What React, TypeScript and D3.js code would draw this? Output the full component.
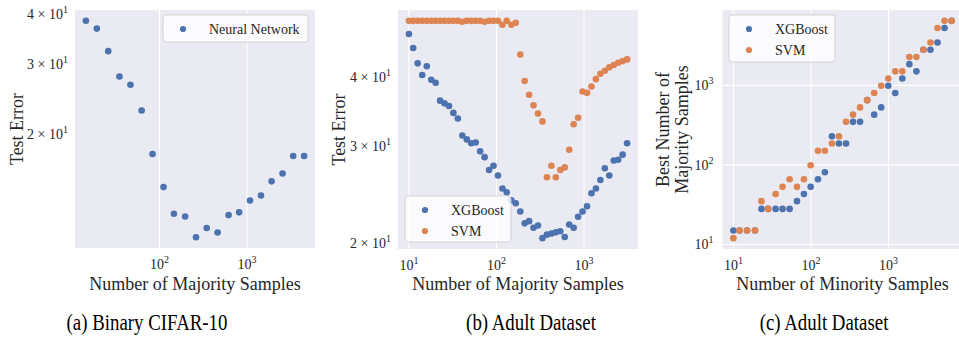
import React, { useEffect, useRef } from 'react'
import * as d3 from 'd3'

// (a) Binary CIFAR-10: neural network test error vs majority samples
const nnSamples = [14.4, 19.2, 25.9, 34.8, 46.5, 62.4, 83.2, 111, 146, 196, 261, 346, 461, 615, 811, 1082, 1443, 1909, 2547, 3365, 4487]
const nnError = [38.5, 36.8, 32.3, 27.9, 26.6, 22.9, 17.8, 14.7, 12.6, 12.4, 11.0, 11.6, 11.3, 12.5, 12.7, 13.6, 14.0, 15.2, 15.9, 17.6, 17.6]

// (b) Adult dataset: test error vs majority samples
const adultSamples = [10, 11.2, 12.6, 14.2, 16.0, 18.0, 20.2, 22.7, 25.5, 28.7, 32.2, 36.2, 40.7, 45.8, 51.5, 57.9, 65.1, 73.2, 82.3, 92.5,
  104, 117, 131, 148, 166, 187, 210, 236, 265, 298, 335, 377, 424, 476, 536, 602, 677, 761, 856, 962,
  1082, 1216, 1367, 1537, 1728, 1943, 2184, 2455, 2760, 3103]
const xgbError = [47.8, 45.1, 42.3, 40.3, 41.8, 39.5, 39.0, 36.2, 35.8, 35.4, 34.4, 33.6, 31.3, 30.8, 30.3, 30.4, 29.3, 28.6, 27.1, 27.6,
  26.5, 25.1, 24.7, 23.9, 23.6, 22.8, 21.7, 21.9, 21.3, 21.5, 20.4, 20.7, 20.8, 20.9, 21.0, 20.5, 21.6, 21.3, 22.3, 22.8,
  23.3, 24.6, 25.1, 26.0, 27.3, 26.5, 28.2, 28.3, 28.9, 30.3]
const svmError = [50.5, 50.5, 50.5, 50.5, 50.5, 50.5, 50.5, 50.5, 50.5, 50.5, 50.5, 50.5, 50.3, 50.5, 50.5, 50.5, 50.5, 50.3, 50.5, 50.5,
  50.5, 49.7, 50.5, 49.7, 50.1, 43.9, 39.3, 37.1, 35.5, 34.3, 33.2, 26.3, 27.6, 26.3, 27.1, 27.4, 29.5, 32.8, 33.7, 37.6,
  37.4, 38.4, 39.6, 40.5, 41.0, 41.6, 42.0, 42.4, 42.7, 43.0]

// (c) Adult dataset: best number of majority samples vs minority samples
const minoritySamples = [10, 12, 15, 19, 23, 28, 35, 43, 53, 66, 81, 99, 123, 151, 186, 229, 283, 348, 429, 529, 652, 803, 990, 1219, 1502, 1851, 2281, 2811, 3464, 4268, 5260, 6481]
const xgbBest = [15, 15, 15, 15, 28, 28, 28, 28, 28, 35, 43, 53, 66, 81, 229, 186, 186, 348, 348, 652, 429, 529, 990, 803, 1219, 1851, 1502, 2811, 2811, 3464, 5260, 6481]
const svmBest = [12, 15, 15, 15, 35, 28, 43, 53, 66, 53, 66, 99, 151, 151, 186, 229, 348, 429, 529, 652, 803, 990, 1219, 1502, 1502, 2281, 2281, 2811, 3464, 5260, 6481, 6481]

const xTicksA = [100, 1000]
const xTicksBC = [10, 100, 1000]
const yTicksErr = [20, 30, 40]
const yTicksBest = [10, 100, 1000]
const captions = ['(a) Binary CIFAR-10', '(b) Adult Dataset', '(c) Adult Dataset']

const BLUE = '#4C72B0'
const ORANGE = '#DD8452'
const FONT = "'Liberation Serif', 'Times New Roman', serif"

// matplotlib-like 5% margin on a log axis
function logDomain(vals: number[]) {
  const lo = Math.log10(d3.min(vals) as number), hi = Math.log10(d3.max(vals) as number)
  const m = (hi - lo) * 0.05
  return [10 ** (lo - m), 10 ** (hi + m)]
}

// tick label like "10^2" or "3×10^1"
function mathLabel(g: any, v: number, mantissa: boolean, x: number, y: number, anchor: string) {
  const e = Math.floor(Math.log10(v) + 1e-9)
  const m = Math.round(v / 10 ** e)
  const t = g.append('text').attr('x', x).attr('y', y).attr('text-anchor', anchor)
    .style('font-family', FONT).style('font-size', '14px').attr('fill', '#262626')
  t.append('tspan').text(mantissa && m !== 1 ? `${m} × 10` : '10')
  t.append('tspan').attr('dy', -6).style('font-size', '10px').text(e)
}

function drawPanel(svg: any, p: any) {
  const g = svg.append('g')
  const allY = p.series.flatMap((s: any) => s.ys)
  const x = d3.scaleLog().domain(logDomain(p.series[0].xs)).range([p.left, p.left + p.w])
  const y = d3.scaleLog().domain(logDomain(allY)).range([p.top + p.h, p.top])

  g.append('rect').attr('x', p.left).attr('y', p.top).attr('width', p.w).attr('height', p.h).attr('fill', '#EAEAF2')

  // grid lines (major decades only)
  g.selectAll('.vgrid').data(p.xTicks).join('line').attr('class', 'vgrid')
    .attr('x1', (d: number) => x(d)).attr('x2', (d: number) => x(d))
    .attr('y1', p.top).attr('y2', p.top + p.h)
    .attr('stroke', '#fff').attr('stroke-width', 1.1)
  if (p.hGrid) {
    g.selectAll('.hgrid').data(p.yTicks).join('line').attr('class', 'hgrid')
      .attr('y1', (d: number) => y(d)).attr('y2', (d: number) => y(d))
      .attr('x1', p.left).attr('x2', p.left + p.w)
      .attr('stroke', '#fff').attr('stroke-width', 1.1)
  }

  // points
  p.series.forEach((s: any) => {
    g.append('g').selectAll('circle').data(s.ys).join('circle')
      .attr('cx', (d: number, i: number) => x(s.xs[i]))
      .attr('cy', (d: number) => y(d))
      .attr('r', 3.3)
      .attr('fill', s.color)
  })

  // tick labels
  p.xTicks.forEach((t: number) => mathLabel(g, t, false, x(t), p.top + p.h + 21, 'middle'))
  p.yTicks.forEach((t: number) => mathLabel(g, t, p.mantissa, p.left - p.yPad, y(t) + 5, 'end'))

  // axis labels
  g.append('text').attr('x', p.left + p.w / 2).attr('y', 290).attr('text-anchor', 'middle')
    .style('font-family', FONT).style('font-size', '18px').attr('fill', '#262626').text(p.xLabel)
  p.yLabel.forEach((line: string, i: number) => {
    const bx = p.yLabelX + i * 18.5
    g.append('text').attr('text-anchor', 'middle')
      .attr('transform', `translate(${bx}, ${p.top + p.h / 2}) rotate(-90)`)
      .style('font-family', FONT).style('font-size', '18px').attr('fill', '#262626').text(line)
  })

  // legend
  const L = p.legend
  g.append('rect').attr('x', L.x).attr('y', L.y).attr('width', L.w).attr('height', L.h)
    .attr('rx', 3).attr('fill', '#fff').attr('fill-opacity', 0.8)
    .attr('stroke', '#cccccc').attr('stroke-opacity', 0.8)
  p.series.forEach((s: any, i: number) => {
    const cy = L.y + 14 + i * 21
    g.append('circle').attr('cx', L.x + 20).attr('cy', cy).attr('r', 3.1).attr('fill', s.color)
    g.append('text').attr('x', L.x + 46).attr('y', cy + 5)
      .style('font-family', FONT).style('font-size', '14px').attr('fill', '#262626').text(s.name)
  })
}

export default function App() {
  const ref = useRef<SVGSVGElement>(null)

  useEffect(() => {
    const svg = d3.select(ref.current)
    svg.selectAll('*').remove()

    drawPanel(svg, {
      left: 75, top: 10, w: 240, h: 238,
      series: [{ name: 'Neural Network', xs: nnSamples, ys: nnError, color: BLUE }],
      xTicks: xTicksA, yTicks: yTicksErr, mantissa: true, hGrid: false, yPad: 7,
      xLabel: 'Number of Majority Samples', yLabel: ['Test Error'], yLabelX: 23,
      legend: { x: 163, y: 15, w: 145, h: 27 },
    })

    drawPanel(svg, {
      left: 398, top: 10, w: 240, h: 239,
      series: [
        { name: 'XGBoost', xs: adultSamples, ys: xgbError, color: BLUE },
        { name: 'SVM', xs: adultSamples, ys: svmError, color: ORANGE },
      ],
      xTicks: xTicksBC, yTicks: yTicksErr, mantissa: true, hGrid: false, yPad: 7,
      xLabel: 'Number of Majority Samples', yLabel: ['Test Error'], yLabelX: 345,
      legend: { x: 405, y: 196, w: 106, h: 46 },
    })

    drawPanel(svg, {
      left: 722.5, top: 10, w: 240, h: 239,
      series: [
        { name: 'XGBoost', xs: minoritySamples, ys: xgbBest, color: BLUE },
        { name: 'SVM', xs: minoritySamples, ys: svmBest, color: ORANGE },
      ],
      xTicks: xTicksBC, yTicks: yTicksBest, mantissa: false, hGrid: true, yPad: 9,
      xLabel: 'Number of Minority Samples', yLabel: ['Best Number of', 'Majority Samples'], yLabelX: 669,
      legend: { x: 729, y: 15, w: 106, h: 47 },
    })

    // subfigure captions (narrow, tall serif like the LaTeX caption)
    const capX = [147, 531, 824]
    svg.selectAll('.caption').data(captions).join('text').attr('class', 'caption')
      .attr('transform', (d: string, i: number) => `translate(${capX[i]}, 330) scale(0.82, 1)`)
      .attr('text-anchor', 'middle')
      .style('font-family', FONT).style('font-size', '23px').attr('fill', '#000')
      .text((d: string) => d)
  }, [])

  return (
    <svg ref={ref} width={959} height={337}
      style={{ position: 'absolute', left: 0, top: 0, background: '#fff' }} />
  )
}
